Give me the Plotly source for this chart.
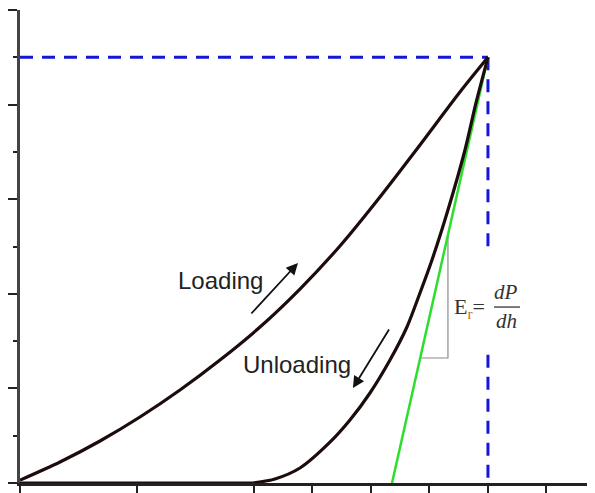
import plotly.graph_objects as go

# ---- data (x: depth h in tick units, y: load P in tick units) ----
load_h = [0.0, 0.684, 1.368, 2.051, 2.735, 3.419, 4.103, 4.786, 5.470, 6.154, 6.838, 7.521, 8.0]
load_p = [0.06, 0.444, 0.888, 1.395, 1.966, 2.600, 3.298, 4.101, 5.011, 6.047, 7.146, 8.266, 9.0]

unload_h = [3.98, 4.359, 4.786, 5.299, 5.641, 5.983, 6.325, 6.615, 6.838, 7.043, 7.316, 7.607, 7.795, 8.0]
unload_p = [0.0, 0.085, 0.317, 0.863, 1.332, 1.903, 2.600, 3.298, 4.017, 4.715, 5.772, 7.040, 8.034, 9.0]

residual_h = [0.0, 3.98]
residual_p = [0.0, 0.0]

tangent_h = [6.36, 8.0]
tangent_p = [0.0, 9.0]

tri_h = [7.316, 7.316, 6.840]
tri_p = [5.25, 2.643, 2.643]

h_max = 8.0
p_max = 9.0
gap_top = 4.93
gap_bottom = 2.71

x_major = [0, 2, 4, 5, 6, 7, 8, 9]
y_major = [0, 2, 4, 6, 8, 10]
y_minor = [1, 3, 5, 7, 9]

CURVE = "#1c0c0c"
BLUE = "rgb(22,22,215)"
GREEN = "rgb(45,222,45)"

fig = go.Figure()

# blue dashed guide lines
fig.add_trace(go.Scatter(x=[0, h_max], y=[p_max, p_max], mode="lines",
                         line=dict(color=BLUE, width=3, dash="13px,9px"), hoverinfo="skip"))
fig.add_trace(go.Scatter(x=[h_max, h_max], y=[p_max, gap_top], mode="lines",
                         line=dict(color=BLUE, width=3, dash="13px,9px"), hoverinfo="skip"))
fig.add_trace(go.Scatter(x=[h_max, h_max], y=[gap_bottom, 0], mode="lines",
                         line=dict(color=BLUE, width=3, dash="13px,9px"), hoverinfo="skip"))

# slope triangle
fig.add_trace(go.Scatter(x=tri_h, y=tri_p, mode="lines",
                         line=dict(color="#8a8a8a", width=1.2), hoverinfo="skip"))

# tangent line
fig.add_trace(go.Scatter(x=tangent_h, y=tangent_p, mode="lines",
                         line=dict(color=GREEN, width=2.5), hoverinfo="skip"))

# curves
fig.add_trace(go.Scatter(x=residual_h, y=residual_p, mode="lines",
                         line=dict(color=CURVE, width=3.2), hoverinfo="skip"))
fig.add_trace(go.Scatter(x=load_h, y=load_p, mode="lines",
                         line=dict(color=CURVE, width=3.2, shape="spline", smoothing=0.8),
                         hoverinfo="skip"))
fig.add_trace(go.Scatter(x=unload_h, y=unload_p, mode="lines",
                         line=dict(color=CURVE, width=3.2, shape="spline", smoothing=0.8),
                         hoverinfo="skip"))

# fraction bar
fig.add_shape(type="line", x0=8.103, x1=8.547, y0=3.72, y1=3.72,
              line=dict(color="#333333", width=1.3))

sans = "Liberation Sans, Arial, sans-serif"
serif = "Liberation Serif, Times New Roman, serif"

fig.add_annotation(x=3.42, y=4.29, text="Loading", showarrow=False,
                   font=dict(family=sans, size=24, color="#222222"))
fig.add_annotation(x=4.74, y=2.51, text="Unloading", showarrow=False,
                   font=dict(family=sans, size=24, color="#222222"))

# arrows
fig.add_annotation(x=4.752, y=4.651, ax=-48, ay=52, text="", showarrow=True,
                   arrowhead=2, arrowsize=1.3, arrowwidth=1.8, arrowcolor="#111111")
fig.add_annotation(x=5.692, y=2.008, ax=37, ay=-60, text="", showarrow=True,
                   arrowhead=2, arrowsize=1.3, arrowwidth=1.8, arrowcolor="#111111")

# formula
fig.add_annotation(x=7.99, y=3.70, xanchor="right", yanchor="middle", showarrow=False,
                   text='E<sub><span style="color:#d2691e">r</span></sub>=',
                   font=dict(family=serif, size=22, color="#333333"))
fig.add_annotation(x=8.31, y=4.03, showarrow=False, text="<i>dP</i>",
                   font=dict(family=serif, size=21, color="#333333"))
fig.add_annotation(x=8.31, y=3.42, showarrow=False, text="<i>dh</i>",
                   font=dict(family=serif, size=21, color="#333333"))

# the page body has an 8px margin, so the figure is sized/offset to compensate
fig.update_layout(
    width=587, height=485,
    margin=dict(l=12, r=0, t=2, b=10),
    paper_bgcolor="white", plot_bgcolor="white",
    showlegend=False,
)
fig.update_xaxes(range=[0, 9.83], showgrid=False, zeroline=False, showticklabels=False,
                 showline=True, linecolor="#222222", linewidth=2.5,
                 ticks="outside", tickmode="array", tickvals=x_major,
                 ticklen=7, tickwidth=1.8, tickcolor="#222222")
fig.update_yaxes(range=[0, 10], showgrid=False, zeroline=False, showticklabels=False,
                 showline=True, linecolor="#444444", linewidth=3,
                 ticks="outside", tickmode="array", tickvals=y_major,
                 ticklen=9, tickwidth=1.8, tickcolor="#222222",
                 minor=dict(ticks="outside", tickmode="array", tickvals=y_minor,
                            ticklen=4, tickwidth=1.8, tickcolor="#222222"))

fig.write_html("out.html")
